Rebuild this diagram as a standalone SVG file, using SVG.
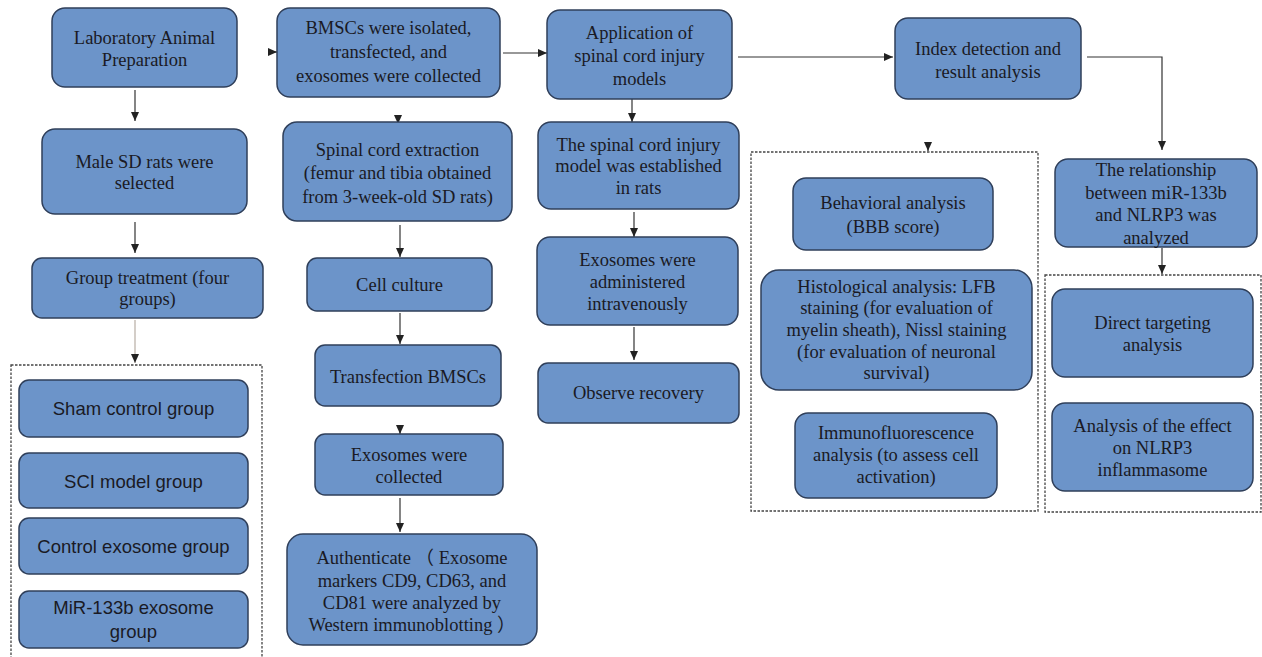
<svg xmlns="http://www.w3.org/2000/svg" width="1262" height="657" viewBox="0 0 1262 657">
<style>
.box{fill:#6c94c9;stroke:#2f3f5a;stroke-width:1.5}
.grp{fill:none;stroke:#444;stroke-width:1.3;stroke-dasharray:2.5,1.5}
.t{font-family:"Liberation Serif","Noto Sans CJK SC",serif;font-size:18.5px;fill:#1a1a24;text-anchor:middle}
.s{font-family:"Liberation Sans",Arial,sans-serif;font-size:18.5px;fill:#1a1a24;text-anchor:middle}
.c{fill:none;stroke:#333;stroke-width:1.2}
.cl{fill:none;stroke:#b8aea4;stroke-width:1.2}
</style>
<defs>
<marker id="ah" markerUnits="userSpaceOnUse" markerWidth="9" markerHeight="8" refX="9" refY="4" orient="auto">
<path d="M0,0 L9,4 L0,8 z" fill="#222"/>
</marker>
</defs>
<rect width="1262" height="657" fill="#fff"/>

<g id="connectors">
<path class="c" d="M135,90 V121" marker-end="url(#ah)"/>
<path class="c" d="M135,222 V253" marker-end="url(#ah)"/>
<path class="cl" d="M135,320 V363" marker-end="url(#ah)"/>
<path class="c" d="M268,52 H277" marker-end="url(#ah)"/>
<path class="c" d="M503,53 H547" marker-end="url(#ah)"/>
<path class="c" d="M398,115 V124" marker-end="url(#ah)"/>
<path class="c" d="M400,225 V257" marker-end="url(#ah)"/>
<path class="c" d="M400,313 V344" marker-end="url(#ah)"/>
<path class="c" d="M400,425 V434" marker-end="url(#ah)"/>
<path class="c" d="M400,498 V532" marker-end="url(#ah)"/>
<path class="c" d="M738,57 H893" marker-end="url(#ah)"/>
<path class="c" d="M632,99 V122" marker-end="url(#ah)"/>
<path class="c" d="M634,212 V237" marker-end="url(#ah)"/>
<path class="c" d="M634,327 V360" marker-end="url(#ah)"/>
<path class="c" d="M928,142 V151" marker-end="url(#ah)"/>
<path class="c" d="M1087,57 H1162 V150" marker-end="url(#ah)"/>
<path class="c" d="M1162,248 V274" marker-end="url(#ah)"/>
</g>

<g id="groups-frames">
<rect id="frame-groups" class="grp" x="11" y="365" width="251" height="300"/>
<rect id="frame-index" class="grp" x="751" y="152" width="287" height="359"/>
<rect id="frame-relation" class="grp" x="1045" y="275" width="216" height="237"/>
</g>

<g id="lab-animal"><rect class="box" x="52" y="8" width="185" height="79" rx="13"/>
<text class="t" x="144.5" y="44">Laboratory Animal</text><text class="t" x="144.5" y="66">Preparation</text></g>
<g id="male-rats"><rect class="box" x="42" y="129" width="205" height="85" rx="13"/>
<text class="t" x="144.5" y="168">Male SD rats were</text><text class="t" x="144.5" y="189">selected</text></g>
<g id="group-treatment"><rect class="box" x="32" y="258" width="231" height="60" rx="10"/>
<text class="t" x="147.5" y="284">Group treatment (four</text><text class="t" x="147.5" y="305">groups)</text></g>
<g id="sham"><rect class="box" x="19" y="380" width="229" height="57" rx="10"/>
<text class="s" x="133.5" y="415">Sham control group</text></g>
<g id="sci-model"><rect class="box" x="19" y="453" width="229" height="55" rx="10"/>
<text class="s" x="133.5" y="488">SCI model group</text></g>
<g id="control-exo"><rect class="box" x="19" y="518" width="229" height="56" rx="10"/>
<text class="s" x="133.5" y="553">Control exosome group</text></g>
<g id="mir-exo"><rect class="box" x="19" y="591" width="229" height="57" rx="10"/>
<text class="s" x="133.5" y="614">MiR-133b exosome</text><text class="s" x="133.5" y="638">group</text></g>

<g id="bmscs"><rect class="box" x="277" y="8" width="223" height="89" rx="13"/>
<text class="t" x="388.5" y="34">BMSCs were isolated,</text><text class="t" x="388.5" y="58">transfected, and</text><text class="t" x="388.5" y="82">exosomes were collected</text></g>
<g id="spinal-extraction"><rect class="box" x="283" y="122" width="229" height="99" rx="14"/>
<text class="t" x="397.5" y="156">Spinal cord extraction</text><text class="t" x="397.5" y="179">(femur and tibia obtained</text><text class="t" x="397.5" y="203">from 3-week-old SD rats)</text></g>
<g id="cell-culture"><rect class="box" x="307" y="258" width="185" height="53" rx="10"/>
<text class="t" x="399.5" y="291">Cell culture</text></g>
<g id="transfection"><rect class="box" x="315" y="345" width="186" height="61" rx="10"/>
<text class="t" x="408" y="383">Transfection BMSCs</text></g>
<g id="exo-collected"><rect class="box" x="315" y="434" width="188" height="61" rx="10"/>
<text class="t" x="409" y="461">Exosomes were</text><text class="t" x="409" y="483">collected</text></g>
<g id="authenticate"><rect class="box" x="287" y="534" width="250" height="111" rx="16"/>
<text class="t" x="412" y="564">Authenticate （ Exosome</text><text class="t" x="412" y="587">markers CD9, CD63, and</text><text class="t" x="412" y="609">CD81 were analyzed by</text><text class="t" x="412" y="631">Western immunoblotting ）</text></g>

<g id="application"><rect class="box" x="547" y="10" width="185" height="89" rx="13"/>
<text class="t" x="639.5" y="39">Application of</text><text class="t" x="639.5" y="62">spinal cord injury</text><text class="t" x="639.5" y="85">models</text></g>
<g id="sci-established"><rect class="box" x="538" y="122" width="201" height="87" rx="13"/>
<text class="t" x="638.5" y="151">The spinal cord injury</text><text class="t" x="638.5" y="172">model was established</text><text class="t" x="638.5" y="194">in rats</text></g>
<g id="exo-administered"><rect class="box" x="537" y="237" width="201" height="88" rx="13"/>
<text class="t" x="637.5" y="266">Exosomes were</text><text class="t" x="637.5" y="288">administered</text><text class="t" x="637.5" y="310">intravenously</text></g>
<g id="observe"><rect class="box" x="538" y="363" width="201" height="60" rx="10"/>
<text class="t" x="638.5" y="399">Observe recovery</text></g>

<g id="index-detection"><rect class="box" x="895" y="18" width="186" height="81" rx="13"/>
<text class="t" x="988" y="55">Index detection and</text><text class="t" x="988" y="78">result analysis</text></g>
<g id="behavioral"><rect class="box" x="793" y="178" width="200" height="72" rx="13"/>
<text class="t" x="893" y="209">Behavioral analysis</text><text class="t" x="893" y="233">(BBB score)</text></g>
<g id="histological"><rect class="box" x="761" y="270" width="271" height="120" rx="18"/>
<text class="t" x="896.5" y="293">Histological analysis: LFB</text><text class="t" x="896.5" y="314">staining (for evaluation of</text><text class="t" x="896.5" y="336">myelin sheath), Nissl staining</text><text class="t" x="896.5" y="358">(for evaluation of neuronal</text><text class="t" x="896.5" y="379">survival)</text></g>
<g id="immuno"><rect class="box" x="795" y="413" width="202" height="85" rx="13"/>
<text class="t" x="896" y="439">Immunofluorescence</text><text class="t" x="896" y="461">analysis (to assess cell</text><text class="t" x="896" y="483">activation)</text></g>

<g id="relationship"><rect class="box" x="1055" y="159" width="202" height="88" rx="13"/>
<text class="t" x="1156" y="176">The relationship</text><text class="t" x="1156" y="199">between miR-133b</text><text class="t" x="1156" y="221">and NLRP3 was</text><text class="t" x="1156" y="244">analyzed</text></g>
<g id="direct-targeting"><rect class="box" x="1052" y="289" width="201" height="88" rx="13"/>
<text class="t" x="1152.5" y="329">Direct targeting</text><text class="t" x="1152.5" y="351">analysis</text></g>
<g id="nlrp3-effect"><rect class="box" x="1052" y="403" width="201" height="88" rx="13"/>
<text class="t" x="1152.5" y="432">Analysis of the effect</text><text class="t" x="1152.5" y="454">on NLRP3</text><text class="t" x="1152.5" y="476">inflammasome</text></g>
</svg>
